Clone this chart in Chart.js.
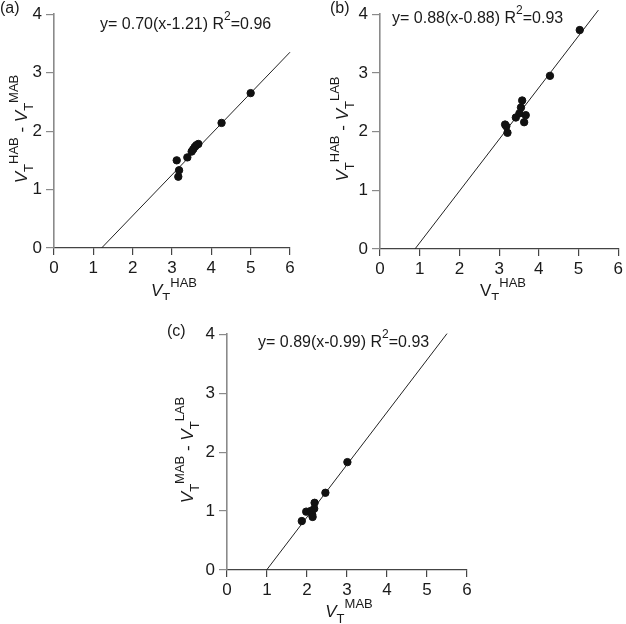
<!DOCTYPE html>
<html>
<head>
<meta charset="utf-8">
<script src="https://cdn.jsdelivr.net/npm/chart.js@4.4.1/dist/chart.umd.min.js"></script>
<style>
  body { margin: 0; background: #fff; width: 626px; height: 624px; position: relative; overflow: hidden; }
  canvas { position: absolute; }
</style>
</head>
<body>
<canvas id="chartA" width="300" height="300" style="left:0;top:0"></canvas>
<canvas id="chartB" width="300" height="300" style="left:326px;top:0"></canvas>
<canvas id="chartC" width="320" height="304" style="left:160px;top:320px"></canvas>
<script>
// tick values shared by all three panels
const xTicks = [0, 1, 2, 3, 4, 5, 6]
const yTicks = [0, 1, 2, 3, 4]

// (a) VT HAB vs VT HAB - VT MAB
const habA = [5.00, 4.26, 3.67, 3.62, 3.58, 3.54, 3.50, 3.39, 3.12, 3.18, 3.16]
const diffA = [2.65, 2.14, 1.78, 1.76, 1.73, 1.69, 1.65, 1.55, 1.50, 1.33, 1.22]
const fitAx = [1.21, 6.0]
const fitAy = [0, 3.35]

// (b) VT HAB vs VT HAB - VT LAB
const habB = [5.03, 4.28, 3.58, 3.55, 3.51, 3.42, 3.67, 3.63, 3.15, 3.18, 3.21]
const diffB = [3.73, 2.95, 2.53, 2.41, 2.31, 2.24, 2.28, 2.16, 2.12, 2.09, 1.98]
const fitBx = [0.88, 5.5]
const fitBy = [0, 4.07]

// (c) VT MAB vs VT MAB - VT LAB
const mabC = [3.01, 2.46, 2.19, 2.18, 1.98, 2.09, 2.13, 2.14, 1.87]
const diffC = [1.83, 1.31, 1.14, 1.04, 0.99, 1.00, 0.94, 0.90, 0.83]
const fitCx = [0.99, 5.5]
const fitCy = [0, 4.01]

const FONT = '"Liberation Sans", Arial, Helvetica, sans-serif'

function toPoints(xs, ys) {
    return xs.map((x, i) => ({ x: x, y: ys[i] }))
}

// draws text made of pieces (italic / sub / sup) on the canvas
function drawRich(ctx, item) {
    const size = item.size
    const small = Math.round(size * 0.78)
    const fontFor = p => (p.i ? 'italic ' : '') + ((p.sub || p.sup) ? small : size) + 'px ' + FONT
    let w = 0
    item.parts.forEach(p => { ctx.font = fontFor(p); p.w = ctx.measureText(p.t).width; w += p.w })
    ctx.save()
    ctx.translate(item.x, item.y)
    if (item.rot) ctx.rotate(-Math.PI / 2)
    let cx = item.align === 'center' ? -w / 2 : 0
    ctx.fillStyle = '#1a1a1a'
    ctx.textBaseline = 'alphabetic'
    item.parts.forEach(p => {
        ctx.font = fontFor(p)
        const dy = p.sup ? -size * 0.55 : (p.sub ? size * 0.35 : 0)
        ctx.fillText(p.t, cx, dy)
        cx += p.w
    })
    ctx.restore()
}

const textPlugin = {
    id: 'richText',
    afterDraw(chart, args, opts) {
        (opts.items || []).forEach(it => drawRich(chart.ctx, it))
    }
}

const V = (sup, italic) => [{ t: 'V', i: italic }, { t: 'T', sub: true }, { t: sup, sup: true }]

function makeChart(id, xs, ys, fx, fy, dims, items) {
    return new Chart(document.getElementById(id), {
        type: 'scatter',
        data: {
            datasets: [{
                data: toPoints(xs, ys),
                backgroundColor: '#111',
                borderColor: '#111',
                pointRadius: 3.7,
                pointHoverRadius: 3.7
            }, {
                type: 'line',
                data: toPoints(fx, fy),
                borderColor: '#222',
                borderWidth: 1,
                pointRadius: 0,
                showLine: true,
                clip: false
            }]
        },
        options: {
            responsive: false,
            animation: false,
            events: [],
            layout: { padding: dims.padding },
            plugins: {
                legend: { display: false },
                tooltip: { enabled: false },
                richText: { items: items }
            },
            scales: {
                x: {
                    type: 'linear',
                    min: 0, max: 6,
                    afterBuildTicks: s => { s.ticks = xTicks.map(v => ({ value: v })) },
                    afterFit: s => { s.height = dims.xHeight },
                    grid: { drawOnChartArea: false, drawTicks: true, tickLength: 7, color: '#444', lineWidth: 1.2 },
                    border: { display: true, color: '#444', width: 1.2 },
                    ticks: { color: '#1a1a1a', padding: 3, font: { family: FONT, size: 17 } }
                },
                y: {
                    type: 'linear',
                    min: 0, max: 4,
                    afterBuildTicks: s => { s.ticks = yTicks.map(v => ({ value: v })) },
                    afterFit: s => { s.width = dims.yWidth },
                    grid: { drawOnChartArea: false, drawTicks: true, tickLength: 8, color: '#8a8a8a', lineWidth: 1.2 },
                    border: { display: true, color: '#8a8a8a', width: 1.6 },
                    ticks: { color: '#1a1a1a', padding: 4, font: { family: FONT, size: 17 } }
                }
            }
        },
        plugins: [textPlugin]
    })
}

makeChart('chartA', habA, diffA, fitAx, fitAy,
    { padding: { top: 10, right: 10, left: 0, bottom: 0 }, yWidth: 54, xHeight: 52 },
    [
        { parts: [{ t: '(a)' }], x: 0, y: 13, size: 16 },
        { parts: [{ t: 'y= 0.70(x-1.21) R' }, { t: '2', sup: true }, { t: '=0.96' }], x: 100, y: 29, size: 16 },
        { parts: V('HAB', true), x: 174, y: 296, size: 17, align: 'center' },
        { parts: V('HAB', true).concat([{ t: ' - ' }]).concat(V('MAB', true)), x: 27, y: 129, size: 17, align: 'center', rot: true }
    ])

makeChart('chartB', habB, diffB, fitBx, fitBy,
    { padding: { top: 9, right: 5, left: 0, bottom: 0 }, yWidth: 54, xHeight: 51 },
    [
        { parts: [{ t: '(b)' }], x: 4, y: 13, size: 16 },
        { parts: [{ t: 'y= 0.88(x-0.88) R' }, { t: '2', sup: true }, { t: '=0.93' }], x: 66, y: 23, size: 16 },
        { parts: V('HAB', false), x: 177, y: 296, size: 17, align: 'center' },
        { parts: V('HAB', true).concat([{ t: ' - ' }]).concat(V('LAB', true)), x: 22, y: 129, size: 17, align: 'center', rot: true }
    ])

makeChart('chartC', mabC, diffC, fitCx, fitCy,
    { padding: { top: 11, right: 13, left: 0, bottom: 0 }, yWidth: 67, xHeight: 54 },
    [
        { parts: [{ t: '(c)' }], x: 7, y: 16, size: 16 },
        { parts: [{ t: 'y= 0.89(x-0.99) R' }, { t: '2', sup: true }, { t: '=0.93' }], x: 98, y: 27, size: 16 },
        { parts: V('MAB', true), x: 189, y: 297, size: 17, align: 'center' },
        { parts: V('MAB', true).concat([{ t: ' - ' }]).concat(V('LAB', true)), x: 33, y: 130, size: 17, align: 'center', rot: true }
    ])
</script>
</body>
</html>
